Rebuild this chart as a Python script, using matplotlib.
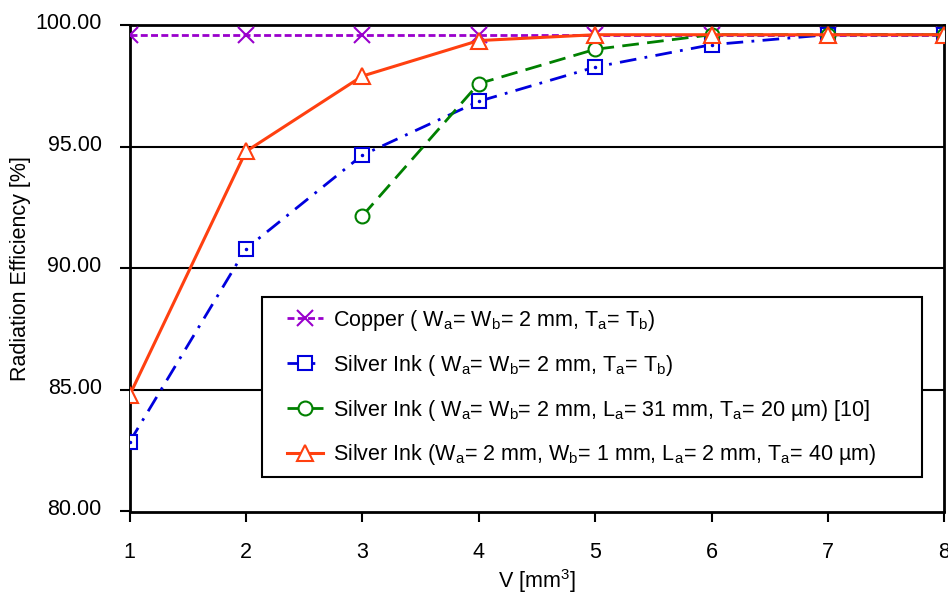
import matplotlib
matplotlib.use("Agg")
import matplotlib.pyplot as plt
from matplotlib.ticker import FormatStrFormatter
from matplotlib.transforms import ScaledTranslation
from matplotlib.patches import Rectangle

plt.rcParams['font.family'] = ['Liberation Sans', 'DejaVu Sans']
plt.rcParams['mathtext.fontset'] = 'custom'
plt.rcParams['mathtext.rm'] = 'Liberation Sans'
plt.rcParams['mathtext.it'] = 'Liberation Sans'
plt.rcParams['font.size'] = 15.5

x_vals = [1, 2, 3, 4, 5, 6, 7, 8]
copper = [99.6, 99.6, 99.6, 99.6, 99.6, 99.6, 99.6, 99.6]
silver_same = [82.85, 90.8, 94.65, 96.86, 98.27, 99.19, 99.6, 99.6]
x_ref = [3, 4, 5, 6, 7, 8]
silver_ref = [92.15, 97.59, 99.0, 99.6, 99.6, 99.6]
silver_new = [84.77, 94.8, 97.9, 99.36, 99.6, 99.6, 99.6, 99.6]

labels = [
    r"Copper ( W$\mathregular{_a}$= W$\mathregular{_b}$= 2 mm, T$\mathregular{_a}$= T$\mathregular{_b}$)",
    r"Silver Ink ( W$\mathregular{_a}$= W$\mathregular{_b}$= 2 mm, T$\mathregular{_a}$= T$\mathregular{_b}$)",
    r"Silver Ink ( W$\mathregular{_a}$= W$\mathregular{_b}$= 2 mm, L$\mathregular{_a}$= 31 mm, T$\mathregular{_a}$= 20 µm) [10]",
    r"Silver Ink (W$\mathregular{_a}$= 2 mm, W$\mathregular{_b}$= 1 mm, L$\mathregular{_a}$= 2 mm, T$\mathregular{_a}$= 40 µm)",
]

c_cu = '#9900CC'
c_blue = '#0000DD'
c_green = '#008000'
c_orange = '#FF4010'

fig = plt.figure(figsize=(9.48, 5.94), dpi=100)
ax_l, ax_r, ax_t, ax_b = 129.5, 944.3, 25, 511.5
ax = fig.add_axes([ax_l/948, 1-ax_b/594, (ax_r-ax_l)/948, (ax_b-ax_t)/594])
W, H = ax_r - ax_l, ax_b - ax_t

for y in [85, 90, 95]:
    ax.axhline(y, color='black', lw=1.5, zorder=1)

ax.plot(x_vals, copper, color=c_cu, ls=(0, (2.5, 1.2)), lw=2, marker='x', ms=11, mew=1.5, label=labels[0], zorder=3)
ax.plot(x_vals, silver_same, color=c_blue, ls=(0, (6, 3, 1, 3)), lw=2, marker='s', ms=10, mew=1.5, mfc='white', label=labels[1], zorder=3)
ax.plot(x_vals, silver_same, color=c_blue, ls='none', marker='.', ms=3, zorder=4)
ax.plot(x_ref, silver_ref, color=c_green, ls=(0, (6, 3)), lw=2, marker='o', ms=10, mew=1.5, mfc='white', label=labels[2], zorder=3)
ax.plot(x_vals, silver_new, color=c_orange, ls='-', lw=2.2, marker='^', ms=11, mew=1.5, mfc='white', label=labels[3], zorder=5)

ax.set_xlim(1, 8)
ax.set_ylim(80, 100)
ax.set_xticks(x_vals)
ax.set_yticks([80, 85, 90, 95, 100])
ax.yaxis.set_major_formatter(FormatStrFormatter('%.2f'))
ax.tick_params(direction='out', length=7, width=1.5, colors='black', labelsize=15.5)
ax.tick_params(axis='x', pad=15)
ax.tick_params(axis='y', pad=13)
for s in ax.spines.values():
    s.set_linewidth(2)
    s.set_color('black')

offset = ScaledTranslation(0, 4/100, fig.dpi_scale_trans)
for lab in ax.get_yticklabels():
    lab.set_transform(lab.get_transform() + offset)

ax.set_xlabel(r"V [mm$\mathregular{^3}$]", fontsize=15.5, labelpad=3)
ax.set_ylabel("Radiation Efficiency [%]", fontsize=15.5)
ax.yaxis.set_label_coords((31 - ax_l)/W, 0.5)

# legend frame
fl, fr, ft, fb = 262, 922, 297, 477
frame = Rectangle(((fl-ax_l)/W, (ax_b-fb)/H), (fr-fl)/W, (fb-ft)/H, transform=ax.transAxes,
                  facecolor='white', edgecolor='black', lw=1.5, zorder=9, clip_on=False)
ax.add_patch(frame)

leg = ax.legend(loc='upper left', bbox_to_anchor=((287-ax_l)/W, (ax_b-308)/H),
                frameon=False, fontsize=15.5,
                handlelength=1.67, handletextpad=0.47, labelspacing=0.92, borderpad=0,
                borderaxespad=0)
leg.set_zorder(10)

fig.savefig('out.png', dpi=100)
